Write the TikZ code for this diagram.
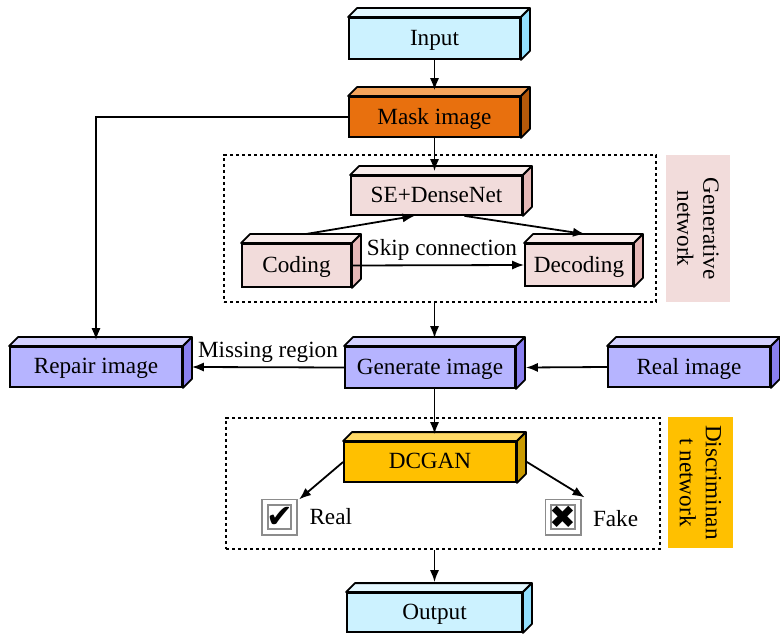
\documentclass[tikz,border=0pt]{standalone}
\usepackage{fontspec}
\setmainfont{Liberation Serif}
\newfontfamily\markfont{DejaVu Sans}
\usetikzlibrary{arrows.meta,positioning,calc}
\definecolor{skyfront}{HTML}{CCF2FF}
\definecolor{skytop}{HTML}{E4F8FF}
\definecolor{skyside}{HTML}{92E0FF}
\definecolor{maskfront}{HTML}{E8700E}
\definecolor{masktop}{HTML}{F4A45C}
\definecolor{maskside}{HTML}{B5590A}
\definecolor{rosefront}{HTML}{F2DCDB}
\definecolor{rosetop}{HTML}{F8ECEB}
\definecolor{roseside}{HTML}{E6B8B7}
\definecolor{lilacfront}{HTML}{B6B4FF}
\definecolor{lilactop}{HTML}{D4D2FF}
\definecolor{lilacside}{HTML}{8A80F0}
\definecolor{goldfront}{HTML}{FFC000}
\definecolor{goldtop}{HTML}{FFD966}
\definecolor{goldside}{HTML}{C99A00}
\tikzset{
  block/.style={draw=black, line width=0.9pt, align=center, inner sep=2pt, minimum height=20pt, text depth=1pt, font=\fontsize{11.6}{13.5}\selectfont},
  groupbox/.style={draw=black, line width=0.75pt, dash pattern=on 1.6pt off 1.4pt, inner sep=0pt},
  tagbox/.style={rotate=-90, align=center, inner sep=0pt, font=\fontsize{11.6}{13}\selectfont},
  arrow/.style={-{Latex[length=6pt,width=4.6pt]}, line width=0.9pt},
  chkbox/.style={draw=black!45, double=white, double distance=2pt, line width=0.9pt, minimum size=14.7pt, inner sep=0pt, font=\markfont\fontsize{16}{16}\selectfont},
  txt/.style={font=\fontsize{11.6}{13.5}\selectfont, inner sep=2pt}
}
% top and right faces of a 3d block
\newcommand{\blockfaces}[3]{%
  \draw[line width=0.9pt, line join=round, fill=#2] (#1.north west) -- ++(9,-9) -- ($(#1.north east)+(9,-9)$) -- (#1.north east) -- cycle;
  \draw[line width=0.9pt, line join=round, fill=#3] (#1.north east) -- ++(9,-9) -- ($(#1.south east)+(9,-9)$) -- (#1.south east) -- cycle;}
\begin{document}
\begin{tikzpicture}[x=0.5pt, y=-0.5pt]
\useasboundingbox (0,0) rectangle (780,635);
% ---- dashed groups and side tags ----
\node[groupbox, minimum width=216pt, minimum height=73.5pt] (genbox) at (440,228.5) {};
\node[groupbox, minimum width=217pt, minimum height=65.5pt] (discbox) at (443,483.5) {};
\node[tagbox, fill=rosefront, minimum width=73.5pt, minimum height=32pt] (gentag) at (698,228.5) {Generative\\network};
\node[tagbox, fill=goldfront, minimum width=65.5pt, minimum height=32.5pt] (disctag) at (700.5,482.5) {Discriminan\\t network};
% ---- blocks ----
\node[block, fill=skyfront, minimum width=85.5pt, minimum height=20.5pt] (input) at (434.5,38.5) {Input};
\node[block, fill=maskfront, minimum width=85.5pt] (mask) at (434.5,117) {Mask image};
\node[block, fill=rosefront, minimum width=85.5pt, minimum height=19.5pt] (sedense) at (436.5,195.5) {SE+DenseNet};
\node[block, fill=rosefront, minimum width=54.5pt, minimum height=21.5pt] (coding) at (296.5,265.5) {Coding};
\node[block, fill=rosefront, minimum width=54pt, minimum height=21pt] (decoding) at (579,265) {Decoding};
\node[block, fill=lilacfront, minimum width=86pt] (repair) at (96,367) {Repair image};
\node[block, fill=lilacfront, minimum width=85pt, minimum height=20.5pt] (generate) at (430,367.5) {Generate image};
\node[block, fill=lilacfront, minimum width=81pt] (realimg) at (689,367) {Real image};
\node[block, fill=goldfront, minimum width=86pt] (dcgan) at (430,462) {DCGAN};
\node[block, fill=skyfront, minimum width=87.5pt, minimum height=19.5pt] (output) at (434.5,612.5) {Output};
\blockfaces{input}{skytop}{skyside}
\blockfaces{mask}{masktop}{maskside}
\blockfaces{sedense}{rosetop}{roseside}
\blockfaces{coding}{rosetop}{roseside}
\blockfaces{decoding}{rosetop}{roseside}
\blockfaces{repair}{lilactop}{lilacside}
\blockfaces{generate}{lilactop}{lilacside}
\blockfaces{realimg}{lilactop}{lilacside}
\blockfaces{dcgan}{goldtop}{goldside}
\blockfaces{output}{skytop}{skyside}
% ---- real / fake marks ----
\node[chkbox] (realchk) at (279.5,517) {✔};
\node[chkbox] (fakechk) at (563,517) {✖};
\node[txt, right=5pt of realchk] (reallbl) {Real};
\node[txt, right=5pt of fakechk, yshift=-1pt] (fakelbl) {Fake};
% ---- connections ----
\draw[arrow] (input.south) -- ([yshift=3pt]mask.north);
\draw[arrow] (mask.south) -- ([yshift=2pt]sedense.north -| mask.south);
\draw[arrow] (mask.west) -| ([yshift=3pt]repair.north);
\draw[arrow] ($(coding.north)+(9,-9)$) -- ([xshift=-11pt]sedense.south);
\draw[arrow] ([xshift=14pt]sedense.south) -- ($(decoding.north)+(6,-9)$);
\draw[arrow] (coding.east) -- (decoding.west) node[txt, midway, above, xshift=2pt] {Skip connection};
\draw[arrow] (genbox.south -| mask.south) -- ([yshift=4pt]generate.north -| mask.south);
\draw[arrow] (generate.west) -- ([xshift=4.5pt]repair.east) node[txt, midway, above] {Missing region};
\draw[arrow] (realimg.west) -- ([xshift=5pt]generate.east);
\draw[arrow] (generate.south -| mask.south) -- ([yshift=3.5pt]dcgan.north -| mask.south);
\draw[arrow] (dcgan.west) -- ([shift={(4,-2)}]realchk.north east);
\draw[arrow] ([xshift=5pt]dcgan.east) -- ([shift={(6,-4)}]fakechk.north east);
\draw[arrow] (discbox.south -| output.south) -- ([yshift=5pt]output.north);
\end{tikzpicture}
\end{document}
